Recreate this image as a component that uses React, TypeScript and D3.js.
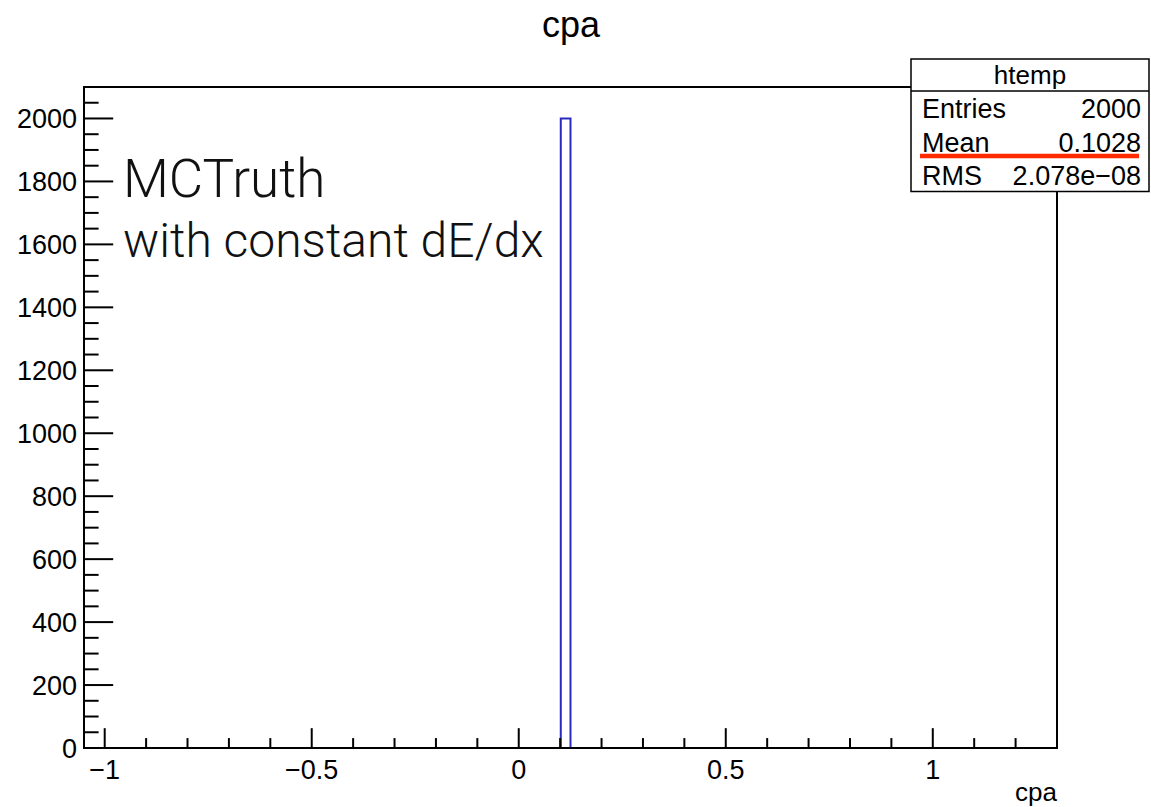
import React from "react";
import * as d3 from "d3";

// histogram "htemp" of cpa, 100 bins on [-1.05, 1.3]; only the filled bin is listed
const xRange = [-1.05, 1.3];
const yRange = [0, 2100];
const binLo = [0.1015];
const binHi = [0.125];
const binCount = [2000];

const xMajorTicks = [-1, -0.5, 0, 0.5, 1];
const xTickLabels = ["\u22121", "\u22120.5", "0", "0.5", "1"];
const xMinorTicks = [-0.9, -0.8, -0.7, -0.6, -0.4, -0.3, -0.2, -0.1, 0.1, 0.2, 0.3, 0.4, 0.6, 0.7, 0.8, 0.9, 1.1, 1.2];
const yMajorTicks = [0, 200, 400, 600, 800, 1000, 1200, 1400, 1600, 1800, 2000];
const yMinorTicks = d3.range(50, 2100, 50).filter((v) => v % 200 !== 0);

const statsTitle = "htemp";
const statsLabels = ["Entries", "Mean", "RMS"];
const statsValues = ["2000", "0.1028", "2.078e\u221208"];

const W = 1151;
const H = 807;
const frame = { left: 84, right: 1057, top: 87, bottom: 748 };
const FONT = "'Liberation Sans', Arial, Helvetica, sans-serif";
const NOTE_FONT = "'Helvetica Neue', Roboto, 'Open Sans', sans-serif";

export default function App() {
  const x = d3.scaleLinear().domain(xRange).range([frame.left, frame.right]);
  const y = d3.scaleLinear().domain(yRange).range([frame.bottom, frame.top]);

  const innerW = frame.right - frame.left;
  const innerH = frame.bottom - frame.top;
  const yTickLen = innerW * 0.03; // ROOT style: 3% of the other side
  const xTickLen = innerH * 0.03;

  // outline of the histogram (step shape)
  const pts: [number, number][] = [[xRange[0], 0]];
  binLo.forEach((lo, i) => {
    pts.push([lo, 0], [lo, binCount[i]], [binHi[i], binCount[i]], [binHi[i], 0]);
  });
  pts.push([xRange[1], 0]);
  const histPath = d3
    .line<[number, number]>()
    .x((d) => x(d[0]))
    .y((d) => y(d[1]))(pts);

  // stats box
  const box = { x: 911, y: 59, w: 238, headH: 32, rowH: 33.5 };

  return (
    <svg
      width={W}
      height={H}
      style={{ position: "absolute", left: 0, top: 0, background: "#fff" }}
      fontFamily={FONT}
    >
      <rect width={W} height={H} fill="#fff" />

      {/* title */}
      <text x={571} y={37} textAnchor="middle" fontSize={36} fill="#000">
        cpa
      </text>

      {/* histogram */}
      <path d={histPath || ""} fill="none" stroke="#2a2ac0" strokeWidth={2} />

      {/* frame */}
      <rect
        x={frame.left}
        y={frame.top}
        width={innerW}
        height={innerH}
        fill="none"
        stroke="#000"
        strokeWidth={2}
      />

      {/* y axis ticks */}
      {yMajorTicks.map((v) => (
        <g key={"ym" + v}>
          <line x1={frame.left} x2={frame.left + yTickLen} y1={y(v)} y2={y(v)} stroke="#000" strokeWidth={2} />
          <text x={77} y={y(v)} dy="0.36em" textAnchor="end" fontSize={27} fill="#000">
            {v}
          </text>
        </g>
      ))}
      {yMinorTicks.map((v) => (
        <line key={"yn" + v} x1={frame.left} x2={frame.left + yTickLen / 2} y1={y(v)} y2={y(v)} stroke="#000" strokeWidth={2} />
      ))}

      {/* x axis ticks */}
      {xMajorTicks.map((v, i) => (
        <g key={"xm" + v}>
          <line x1={x(v)} x2={x(v)} y1={frame.bottom} y2={frame.bottom - xTickLen} stroke="#000" strokeWidth={2} />
          <text x={x(v)} y={779} textAnchor="middle" fontSize={27} fill="#000">
            {xTickLabels[i]}
          </text>
        </g>
      ))}
      {xMinorTicks.map((v) => (
        <line key={"xn" + v} x1={x(v)} x2={x(v)} y1={frame.bottom} y2={frame.bottom - xTickLen / 2} stroke="#000" strokeWidth={2} />
      ))}

      {/* x axis title */}
      <text x={frame.right} y={801} textAnchor="end" fontSize={26} fill="#000">
        cpa
      </text>

      {/* annotation */}
      <text x={123} y={197} fontFamily={NOTE_FONT} fontWeight={300} fontSize={53} fill="#111">
        MCTruth
      </text>
      <text x={123} y={257} fontFamily={NOTE_FONT} fontWeight={300} fontSize={48} fill="#111">
        with constant dE/dx
      </text>

      {/* stats box */}
      <g>
        <rect
          x={box.x}
          y={box.y}
          width={box.w}
          height={box.headH + box.rowH * statsLabels.length}
          fill="#fff"
          stroke="#000"
          strokeWidth={1.5}
        />
        <line
          x1={box.x}
          x2={box.x + box.w}
          y1={box.y + box.headH}
          y2={box.y + box.headH}
          stroke="#000"
          strokeWidth={1.5}
        />
        <text x={box.x + box.w / 2} y={box.y + 25} textAnchor="middle" fontSize={26} fill="#000">
          {statsTitle}
        </text>
        {statsLabels.map((lab, i) => {
          const by = box.y + box.headH + box.rowH * i + 27;
          return (
            <g key={lab}>
              <text x={box.x + 11} y={by} fontSize={27} fill="#000">
                {lab}
              </text>
              <text x={box.x + box.w - 8} y={by} textAnchor="end" fontSize={27} fill="#000">
                {statsValues[i]}
              </text>
            </g>
          );
        })}
        {/* hand-drawn red underline under the Mean row */}
        <line x1={920} x2={1139} y1={156} y2={156} stroke="#ff2a00" strokeWidth={4.5} />
      </g>
    </svg>
  );
}
